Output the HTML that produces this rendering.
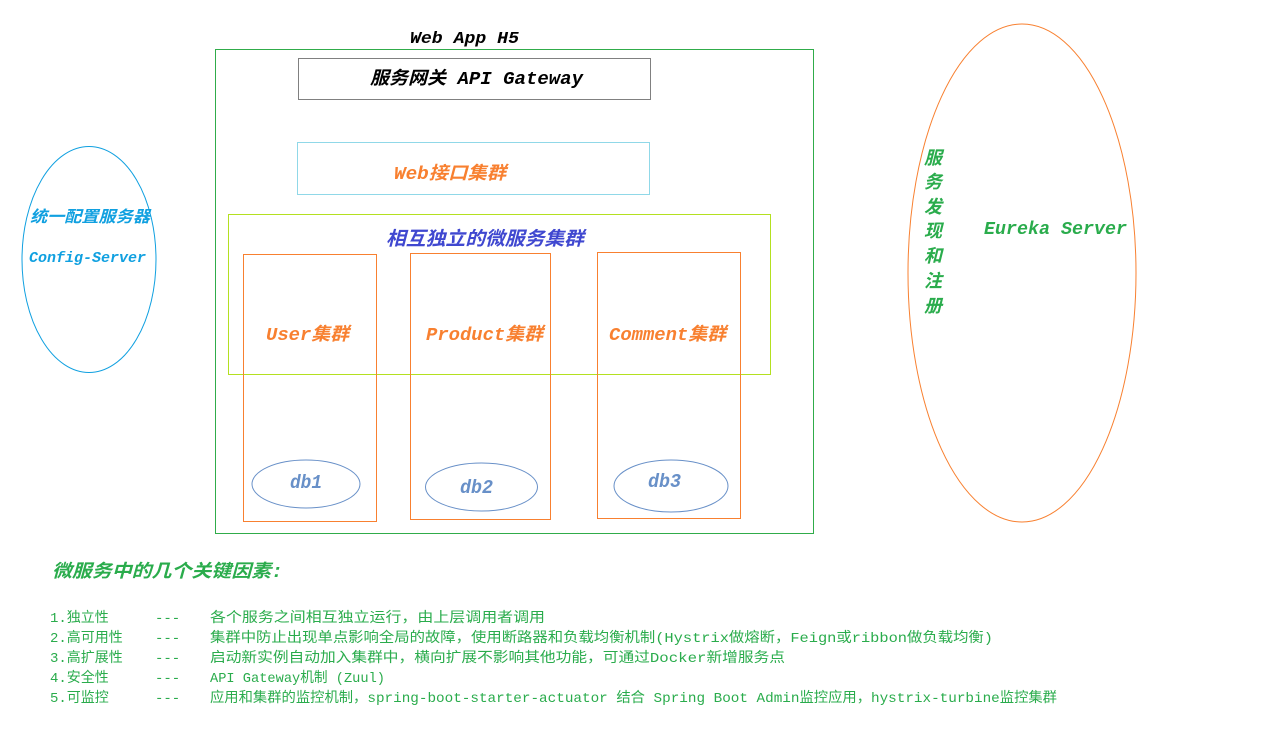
<!DOCTYPE html>
<html><head><meta charset="utf-8"><style>
html,body{margin:0;padding:0;background:#fff;width:1262px;height:741px;overflow:hidden}
svg{display:block}
.t{font-family:"Liberation Mono","Noto Sans CJK SC",monospace;font-style:italic;font-weight:bold}
.l{font-family:"Liberation Mono","Noto Sans CJK SC",monospace;font-size:14px;fill:#2aac4c}
</style></head><body>
<svg width="1262" height="741" xmlns="http://www.w3.org/2000/svg">
<rect x="215.5" y="49.5" width="598" height="484" fill="none" stroke="#30ac4a"/>
<rect x="298.5" y="58.5" width="352" height="41" fill="none" stroke="#808080"/>
<rect x="297.5" y="142.5" width="352" height="52" fill="none" stroke="#90d8e8"/>
<rect x="228.5" y="214.5" width="542" height="160" fill="none" stroke="#b4e020"/>
<rect x="243.5" y="254.5" width="133" height="267" fill="none" stroke="#f88030"/>
<rect x="410.5" y="253.5" width="140" height="266" fill="none" stroke="#f88030"/>
<rect x="597.5" y="252.5" width="143" height="266" fill="none" stroke="#f88030"/>
<ellipse cx="306" cy="484" rx="54" ry="24" fill="none" stroke="#6890c8"/>
<ellipse cx="481.5" cy="487" rx="56" ry="24" fill="none" stroke="#6890c8"/>
<ellipse cx="671" cy="486" rx="57" ry="26" fill="none" stroke="#6890c8"/>
<ellipse cx="89" cy="259.5" rx="67" ry="113" fill="none" stroke="#10a0e0"/>
<ellipse cx="1022" cy="273" rx="114" ry="249" fill="none" stroke="#f88030"/>

<text class="t" x="410" y="43" font-size="17" textLength="109" lengthAdjust="spacingAndGlyphs" fill="#000">Web App H5</text>
<text class="t" x="370" y="84" font-size="18" textLength="213" lengthAdjust="spacingAndGlyphs" fill="#000">服务网关 API Gateway</text>
<text class="t" x="394" y="179" font-size="18" textLength="112" lengthAdjust="spacingAndGlyphs" fill="#f88030">Web接口集群</text>
<text class="t" x="386" y="245" font-size="19" textLength="198" lengthAdjust="spacingAndGlyphs" fill="#4048d0">相互独立的微服务集群</text>
<text class="t" x="266" y="340" font-size="18" textLength="83" lengthAdjust="spacingAndGlyphs" fill="#f88030">User集群</text>
<text class="t" x="426" y="340" font-size="18" textLength="117" lengthAdjust="spacingAndGlyphs" fill="#f88030">Product集群</text>
<text class="t" x="609" y="340" font-size="18" textLength="117" lengthAdjust="spacingAndGlyphs" fill="#f88030">Comment集群</text>
<text class="t" x="290" y="488" font-size="19" textLength="32" lengthAdjust="spacingAndGlyphs" fill="#6890c8" font-weight="normal">db1</text>
<text class="t" x="460" y="493" font-size="19" textLength="33" lengthAdjust="spacingAndGlyphs" fill="#6890c8" font-weight="normal">db2</text>
<text class="t" x="648" y="487" font-size="19" textLength="33" lengthAdjust="spacingAndGlyphs" fill="#6890c8" font-weight="normal">db3</text>
<text class="t" x="30" y="222" font-size="16" textLength="120" lengthAdjust="spacingAndGlyphs" fill="#10a0e0">统一配置服务器</text>
<text class="t" x="29" y="262" font-size="15" textLength="117" lengthAdjust="spacingAndGlyphs" fill="#10a0e0">Config-Server</text>
<text class="t" x="984" y="234" font-size="18" textLength="143" lengthAdjust="spacingAndGlyphs" fill="#2aac4c">Eureka Server</text>
<g class="t" font-size="18" fill="#2aac4c" text-anchor="middle">
<text x="933" y="164">服</text><text x="933" y="188">务</text><text x="933" y="213">发</text>
<text x="933" y="237">现</text><text x="933" y="262">和</text><text x="933" y="287">注</text><text x="933" y="312">册</text>
</g>
<text class="t" x="52" y="577" font-size="18" textLength="231" lengthAdjust="spacingAndGlyphs" fill="#2aac4c">微服务中的几个关键因素:</text>

<g class="l">
<text x="50" y="622">1.独立性</text><text x="155" y="622">---</text><text x="210" y="622" textLength="335" lengthAdjust="spacingAndGlyphs">各个服务之间相互独立运行，由上层调用者调用</text>
<text x="50" y="642">2.高可用性</text><text x="155" y="642">---</text><text x="210" y="642" textLength="783" lengthAdjust="spacingAndGlyphs">集群中防止出现单点影响全局的故障，使用断路器和负载均衡机制(Hystrix做熔断，Feign或ribbon做负载均衡)</text>
<text x="50" y="662">3.高扩展性</text><text x="155" y="662">---</text><text x="210" y="662" textLength="575" lengthAdjust="spacingAndGlyphs">启动新实例自动加入集群中，横向扩展不影响其他功能，可通过Docker新增服务点</text>
<text x="50" y="682">4.安全性</text><text x="155" y="682">---</text><text x="210" y="682" textLength="175" lengthAdjust="spacingAndGlyphs">API Gateway机制 (Zuul)</text>
<text x="50" y="702">5.可监控</text><text x="155" y="702">---</text><text x="210" y="702" textLength="847" lengthAdjust="spacingAndGlyphs">应用和集群的监控机制，spring-boot-starter-actuator 结合 Spring Boot Admin监控应用，hystrix-turbine监控集群</text>
</g>
</svg>
</body></html>
